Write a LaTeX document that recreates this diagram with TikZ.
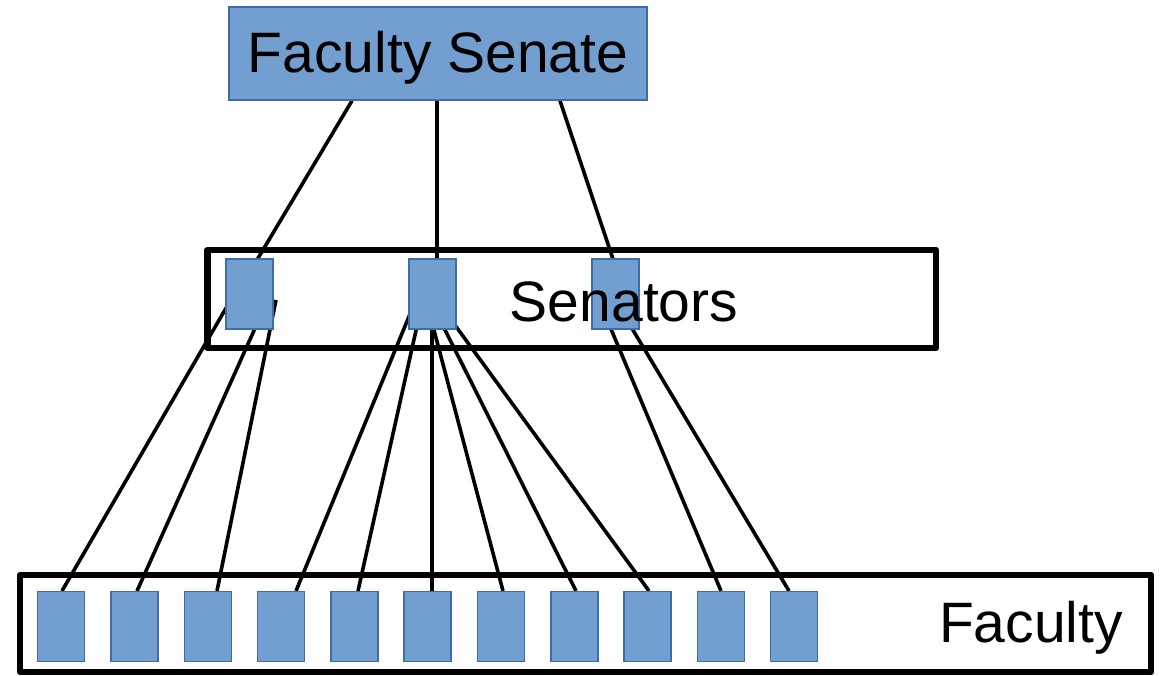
\documentclass[tikz,border=0pt]{standalone}
\usepackage{fontspec}
\setmainfont{Liberation Sans}
\definecolor{boxfill}{HTML}{729FCF}
\definecolor{boxline}{HTML}{3F6DAA}
\pgfdeclarelayer{bg}
\pgfsetlayers{bg,main}
\begin{document}
\begin{tikzpicture}[x=1pt,y=-1pt,
  bluebox/.style={draw=boxline,fill=boxfill,line width=1.5pt,inner sep=0pt,minimum width=47pt,minimum height=70pt},
  frame/.style={draw=black,line width=6.5pt,line join=round,inner sep=0pt},
  conn/.style={draw=black,line width=3.6pt},
  big/.style={font=\fontsize{57}{60}\selectfont,inner sep=0pt}]
\useasboundingbox (0,0) rectangle (1170,676);
% frames
\node[frame,minimum width=728.5pt,minimum height=98pt] (senframe) at (571.75,299) {};
\node[frame,minimum width=1131pt,minimum height=97pt] (facframe) at (585.5,623.5) {};
% Faculty Senate box
\node[bluebox,big,minimum width=418pt,minimum height=93pt,text height=55pt,text depth=16pt] (fs) at (438,53.5) {Faculty Senate};
% senators
\node[bluebox] (s1) at (249.5,294) {};
\node[bluebox] (s2) at (432.5,294) {};
\node[bluebox] (s3) at (615.5,294) {};
% faculty
\foreach \i in {1,...,11}{
  \node[bluebox] (f\i) at ({61.2+73.3*(\i-1)},626.7) {};
}
% labels
\node[big,anchor=base] (sentext) at (624,322) {Senators};
\node[big,anchor=base] (factext) at (1031,642) {Faculty};
% connectors
\begin{pgfonlayer}{bg}
\draw[conn] ([xshift=-86pt]fs.south) -- ([shift={(-4.5,-14)}]s1.center);
\draw[conn] ([xshift=-1pt]fs.south) -- ([shift={(4.5,-24)}]s2.center);
\draw[conn] ([xshift=122pt]fs.south) -- ([shift={(3.5,-17)}]s3.center);
\draw[conn] ([xshift=0.8pt]f1.north) -- ([shift={(-9.5,-10)}]s1.center);
\draw[conn] ([xshift=2.5pt]f2.north) -- ([shift={(16,11)}]s1.center);
\draw[conn] ([xshift=9.2pt]f3.north) -- ([shift={(26.5,6)}]s1.center);
\draw[conn] ([xshift=14.9pt]f4.north) -- ([shift={(-8.5,-14)}]s2.center);
\draw[conn] ([xshift=3.6pt]f5.north) -- ([shift={(-7.5,-4)}]s2.center);
\draw[conn] ([xshift=4.3pt]f6.north) -- ([shift={(-0.5,6)}]s2.center);
\draw[conn] ([xshift=2pt]f7.north) -- ([shift={(-6.5,6)}]s2.center);
\draw[conn] ([xshift=1.7pt]f8.north) -- ([shift={(-2.5,6)}]s2.center);
\draw[conn] ([xshift=1.4pt]f9.north) -- ([shift={(0.5,1)}]s2.center);
\draw[conn] ([xshift=0.1pt]f10.north) -- ([shift={(-12.5,16)}]s3.center);
\draw[conn] ([xshift=-5.2pt]f11.north) -- ([shift={(-0.5,6)}]s3.center);
\end{pgfonlayer}
\end{tikzpicture}
\end{document}
